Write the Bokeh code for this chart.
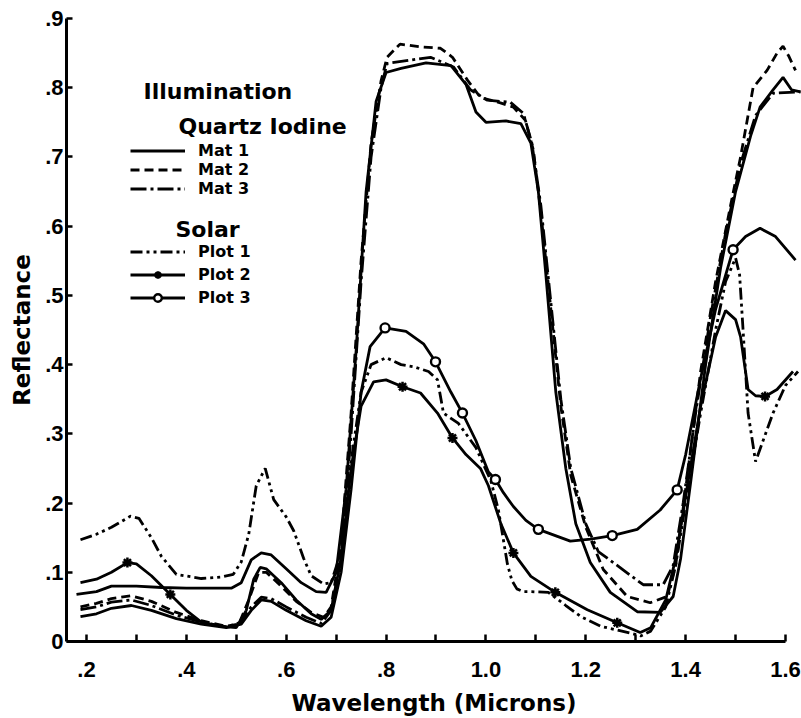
from bokeh.plotting import figure
from bokeh.models import FixedTicker, Label, Legend, LegendItem, Range1d
from bokeh.embed import file_html
from bokeh.resources import INLINE

# ---------------- data ----------------
x_major_ticks = [0.2, 0.4, 0.6, 0.8, 1.0, 1.2, 1.4, 1.6]
x_minor_ticks = [0.3, 0.5, 0.7, 0.9, 1.1, 1.3, 1.5]
x_tick_labels = [".2", ".4", ".6", ".8", "1.0", "1.2", "1.4", "1.6"]
y_ticks = [0, 0.1, 0.2, 0.3, 0.4, 0.5, 0.6, 0.7, 0.8, 0.9]
y_tick_labels = ["0", ".1", ".2", ".3", ".4", ".5", ".6", ".7", ".8", ".9"]

# Quartz Iodine illumination
mat1_wl = [0.18, 0.22, 0.25, 0.30, 0.35, 0.40, 0.45, 0.49, 0.51, 0.53, 0.55, 0.57, 0.60, 0.63, 0.66,
           0.68, 0.70, 0.72, 0.74, 0.76, 0.78, 0.80, 0.83, 0.88, 0.93, 0.96, 0.98, 1.00, 1.04, 1.07,
           1.09, 1.105, 1.12, 1.14, 1.16, 1.18, 1.209, 1.249, 1.303, 1.349, 1.375, 1.39, 1.41, 1.44,
           1.47, 1.50, 1.53, 1.549, 1.575, 1.595, 1.612, 1.63]
mat1_r = [0.068, 0.072, 0.080, 0.080, 0.078, 0.077, 0.077, 0.077, 0.085, 0.118, 0.128, 0.125, 0.105, 0.085, 0.072,
          0.071, 0.100, 0.220, 0.420, 0.650, 0.780, 0.822, 0.828, 0.836, 0.832, 0.805, 0.765, 0.750, 0.752, 0.748,
          0.720, 0.650, 0.530, 0.360, 0.250, 0.170, 0.114, 0.071, 0.043, 0.042, 0.065, 0.120, 0.230, 0.400,
          0.540, 0.650, 0.730, 0.772, 0.797, 0.815, 0.797, 0.794]

mat2_wl = [0.188, 0.22, 0.25, 0.29, 0.33, 0.38, 0.43, 0.48, 0.505, 0.525, 0.545, 0.56, 0.59, 0.62, 0.65,
           0.675, 0.69, 0.71, 0.73, 0.75, 0.77, 0.79, 0.802, 0.828, 0.869, 0.909, 0.933, 0.963, 0.989, 1.029,
           1.055, 1.079, 1.095, 1.11, 1.13, 1.15, 1.17, 1.20, 1.235, 1.283, 1.329, 1.363, 1.38, 1.40, 1.43,
           1.46, 1.49, 1.51, 1.535, 1.563, 1.583, 1.595, 1.607, 1.62]
mat2_r = [0.050, 0.055, 0.062, 0.066, 0.058, 0.042, 0.030, 0.022, 0.025, 0.060, 0.100, 0.100, 0.080, 0.058, 0.042,
          0.035, 0.050, 0.140, 0.330, 0.550, 0.720, 0.810, 0.844, 0.863, 0.859, 0.857, 0.844, 0.811, 0.786, 0.778,
          0.772, 0.753, 0.710, 0.620, 0.480, 0.340, 0.240, 0.165, 0.104, 0.065, 0.056, 0.065, 0.110, 0.220, 0.390,
          0.520, 0.630, 0.700, 0.800, 0.825, 0.850, 0.860, 0.845, 0.825]

mat3_wl = [0.188, 0.22, 0.25, 0.29, 0.33, 0.38, 0.43, 0.48, 0.51, 0.53, 0.55, 0.57, 0.60, 0.64, 0.67,
           0.69, 0.71, 0.73, 0.75, 0.77, 0.79, 0.802, 0.85, 0.889, 0.935, 0.969, 1.003, 1.049, 1.075, 1.092,
           1.11, 1.13, 1.15, 1.17, 1.20, 1.225, 1.255, 1.315, 1.355, 1.375, 1.395, 1.42, 1.45, 1.48, 1.51,
           1.54, 1.575, 1.63]
mat3_r = [0.046, 0.050, 0.057, 0.060, 0.052, 0.038, 0.028, 0.021, 0.028, 0.050, 0.064, 0.062, 0.050, 0.035, 0.026,
          0.045, 0.120, 0.300, 0.520, 0.700, 0.800, 0.835, 0.840, 0.844, 0.830, 0.797, 0.782, 0.779, 0.763, 0.720,
          0.630, 0.490, 0.350, 0.250, 0.170, 0.130, 0.114, 0.082, 0.082, 0.110, 0.200, 0.330, 0.470, 0.590, 0.690,
          0.760, 0.792, 0.794]

# Solar illumination
plot1_wl = [0.188, 0.22, 0.25, 0.288, 0.305, 0.33, 0.35, 0.38, 0.43, 0.47, 0.494, 0.51, 0.525, 0.54, 0.558,
            0.575, 0.60, 0.615, 0.635, 0.65, 0.675, 0.69, 0.71, 0.73, 0.75, 0.77, 0.80, 0.83, 0.855, 0.885,
            0.903, 0.915, 0.945, 0.98, 1.01, 1.025, 1.043, 1.052, 1.062, 1.075, 1.09, 1.125, 1.16, 1.19, 1.23,
            1.29, 1.31, 1.33, 1.36, 1.38, 1.40, 1.43, 1.46, 1.48, 1.50, 1.508, 1.515, 1.525, 1.54, 1.555,
            1.575, 1.60, 1.625]
plot1_r = [0.147, 0.155, 0.165, 0.181, 0.178, 0.150, 0.123, 0.097, 0.091, 0.093, 0.097, 0.115, 0.155, 0.225, 0.250,
           0.205, 0.180, 0.160, 0.120, 0.095, 0.083, 0.085, 0.130, 0.260, 0.360, 0.400, 0.410, 0.400, 0.397, 0.390,
           0.378, 0.330, 0.315, 0.280, 0.232, 0.190, 0.112, 0.088, 0.076, 0.072, 0.072, 0.071, 0.052, 0.036, 0.022,
           0.012, 0.008, 0.015, 0.050, 0.110, 0.200, 0.330, 0.450, 0.520, 0.554, 0.530, 0.450, 0.330, 0.260, 0.290,
           0.330, 0.370, 0.390]

plot2_wl = [0.188, 0.22, 0.25, 0.282, 0.30, 0.33, 0.368, 0.40, 0.43, 0.47, 0.50, 0.52, 0.535, 0.548, 0.56,
            0.59, 0.62, 0.65, 0.67, 0.69, 0.71, 0.73, 0.75, 0.775, 0.80, 0.833, 0.869, 0.903, 0.933, 0.96,
            0.989, 1.005, 1.03, 1.055, 1.09, 1.139, 1.203, 1.263, 1.309, 1.33, 1.36, 1.38, 1.40, 1.43, 1.46,
            1.48, 1.50, 1.51, 1.525, 1.54, 1.559, 1.583, 1.615]
plot2_r = [0.085, 0.090, 0.100, 0.114, 0.112, 0.095, 0.068, 0.045, 0.028, 0.022, 0.020, 0.045, 0.090, 0.107, 0.105,
           0.085, 0.060, 0.040, 0.032, 0.045, 0.120, 0.250, 0.340, 0.375, 0.378, 0.368, 0.359, 0.330, 0.294, 0.270,
           0.250, 0.225, 0.170, 0.128, 0.094, 0.071, 0.046, 0.027, 0.013, 0.020, 0.060, 0.120, 0.210, 0.340, 0.440,
           0.478, 0.465, 0.440, 0.364, 0.355, 0.354, 0.364, 0.390]
plot2_mark_wl = [0.282, 0.368, 0.833, 0.933, 1.055, 1.139, 1.263, 1.559]
plot2_mark_r = [0.114, 0.068, 0.368, 0.294, 0.128, 0.071, 0.027, 0.354]

plot3_wl = [0.188, 0.22, 0.25, 0.29, 0.33, 0.38, 0.43, 0.48, 0.51, 0.53, 0.55, 0.57, 0.60, 0.64, 0.67,
            0.69, 0.71, 0.73, 0.75, 0.768, 0.798, 0.84, 0.875, 0.899, 0.93, 0.953, 0.98, 1.005, 1.019, 1.035,
            1.055, 1.08, 1.105, 1.169, 1.21, 1.253, 1.303, 1.349, 1.383, 1.40, 1.43, 1.46, 1.495, 1.52, 1.549,
            1.58, 1.62]
plot3_r = [0.036, 0.040, 0.048, 0.052, 0.045, 0.033, 0.025, 0.020, 0.025, 0.045, 0.060, 0.058, 0.045, 0.030, 0.022,
           0.035, 0.100, 0.220, 0.360, 0.426, 0.453, 0.448, 0.430, 0.404, 0.360, 0.330, 0.290, 0.245, 0.234, 0.215,
           0.195, 0.175, 0.162, 0.145, 0.148, 0.153, 0.162, 0.190, 0.219, 0.270, 0.380, 0.480, 0.566, 0.585, 0.597,
           0.585, 0.551]
plot3_mark_wl = [0.798, 0.899, 0.953, 1.019, 1.105, 1.253, 1.383, 1.495]
plot3_mark_r = [0.453, 0.404, 0.330, 0.234, 0.162, 0.153, 0.219, 0.566]

# ---------------- figure ----------------
TICK_FONT = "Liberation Sans"
TEXT_FONT = "DejaVu Sans"

p = figure(width=801, height=718, x_range=Range1d(0.16, 1.632), y_range=Range1d(0, 0.9),
           output_backend="svg", toolbar_location=None,
           min_border_left=66, min_border_right=0, min_border_top=18, min_border_bottom=76)
p.grid.visible = False
p.outline_line_color = None
p.background_fill_color = "white"
p.border_fill_color = "white"

xa = p.xaxis[0]
xa.ticker = FixedTicker(ticks=x_major_ticks, minor_ticks=x_minor_ticks)
xa.major_label_overrides = dict(zip(x_major_ticks, x_tick_labels))
xa.bounds = (0.16, 1.6)
xa.axis_line_width = 3
xa.major_tick_in = 7
xa.major_tick_out = 0
xa.minor_tick_in = 7
xa.minor_tick_out = 0
xa.major_tick_line_width = 2.5
xa.minor_tick_line_width = 2.5
xa.major_label_text_font = TICK_FONT
xa.major_label_text_font_style = "bold"
xa.major_label_text_font_size = "22px"
xa.major_label_text_color = "black"
xa.major_label_standoff = 20
xa.axis_label = "Wavelength (Microns)"
xa.axis_label_text_font = TEXT_FONT
xa.axis_label_text_font_style = "bold"
xa.axis_label_text_font_size = "23px"
xa.axis_label_text_color = "black"
xa.axis_label_standoff = 10

ya = p.yaxis[0]
ya.ticker = FixedTicker(ticks=y_ticks, minor_ticks=[])
ya.major_label_overrides = dict(zip(y_ticks, y_tick_labels))
ya.bounds = (0, 0.9)
ya.axis_line_width = 3
ya.major_tick_in = 6
ya.major_tick_out = 0
ya.major_tick_line_width = 2.5
ya.major_label_text_font = TICK_FONT
ya.major_label_text_font_style = "bold"
ya.major_label_text_font_size = "22px"
ya.major_label_text_color = "black"
ya.major_label_standoff = 3
ya.axis_label = "Reflectance"
ya.axis_label_text_font = TEXT_FONT
ya.axis_label_text_font_style = "bold"
ya.axis_label_text_font_size = "23px"
ya.axis_label_text_color = "black"
ya.axis_label_standoff = 7

LW = 2.8
r_m1 = p.line(mat1_wl, mat1_r, line_color="black", line_width=LW)
r_m2 = p.line(mat2_wl, mat2_r, line_color="black", line_width=LW, line_dash="9 5")
r_m3 = p.line(mat3_wl, mat3_r, line_color="black", line_width=LW, line_dash="16 4 3 4")
r_p1 = p.line(plot1_wl, plot1_r, line_color="black", line_width=LW, line_dash="12 4 3 4 3 4")
r_p2 = p.line(plot2_wl, plot2_r, line_color="black", line_width=LW)
r_p2m = p.scatter(plot2_mark_wl, plot2_mark_r, marker="asterisk", size=10, line_color="black", line_width=2.5)
r_p3 = p.line(plot3_wl, plot3_r, line_color="black", line_width=LW)
r_p3m = p.scatter(plot3_mark_wl, plot3_mark_r, marker="circle", size=9, fill_color="white",
                  line_color="black", line_width=2.4)

legend_style = dict(border_line_color=None, background_fill_alpha=0, padding=0, margin=0,
                    glyph_width=55, glyph_height=19, label_height=19, label_standoff=13,
                    label_text_font=TEXT_FONT, label_text_font_style="bold",
                    label_text_font_size="16px", label_text_color="black")

leg_q = Legend(items=[LegendItem(label="Mat 1", renderers=[r_m1]),
                      LegendItem(label="Mat 2", renderers=[r_m2]),
                      LegendItem(label="Mat 3", renderers=[r_m3])],
               location=(64, 443), spacing=0, **legend_style)
leg_s = Legend(items=[LegendItem(label="Plot 1", renderers=[r_p1]),
                      LegendItem(label="Plot 2", renderers=[r_p2, r_p2m]),
                      LegendItem(label="Plot 3", renderers=[r_p3, r_p3m])],
               location=(64, 334), spacing=4, **legend_style)
p.add_layout(leg_q)
p.add_layout(leg_s)

header_style = dict(x_units="screen", y_units="screen", text_font=TEXT_FONT, text_font_style="bold",
                    text_font_size="22px", text_color="black", text_baseline="middle")
p.add_layout(Label(x=77, y=550, text="Illumination", **header_style))
p.add_layout(Label(x=112, y=515, text="Quartz Iodine", **header_style))
p.add_layout(Label(x=109, y=412, text="Solar", **header_style))

open("out.html", "w").write(file_html(p, INLINE))
